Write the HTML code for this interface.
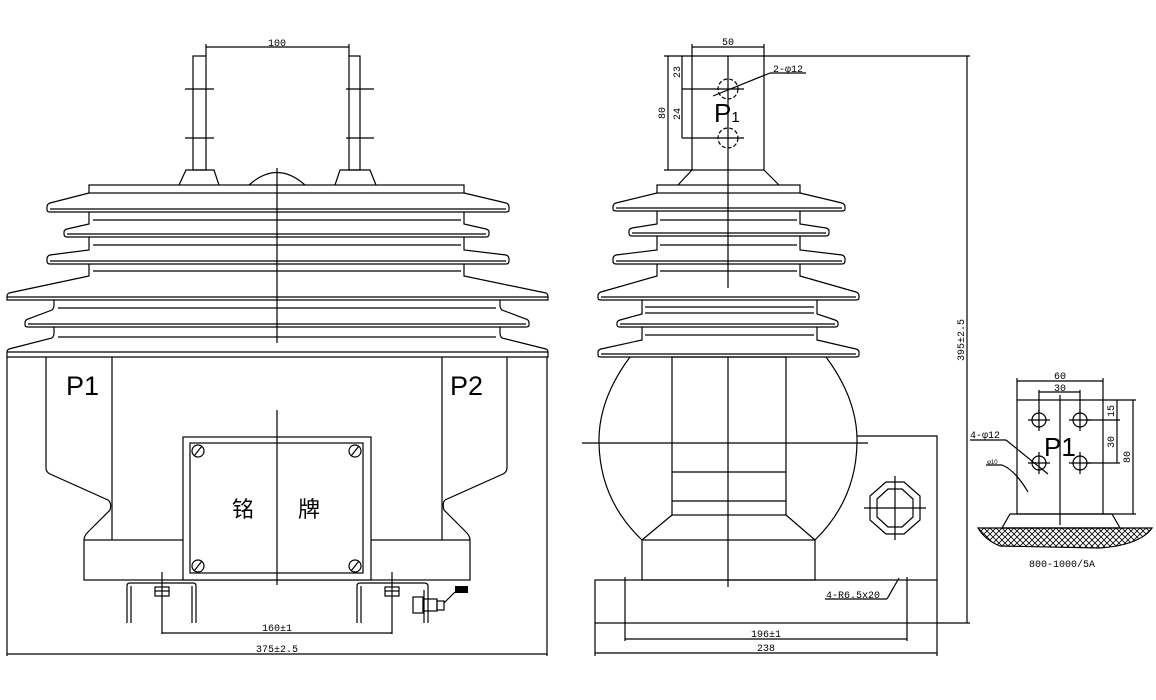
<!DOCTYPE html>
<html><head><meta charset="utf-8"><style>
html,body{margin:0;padding:0;background:#fff;}
svg{display:block;}
text{font-family:"Liberation Sans","Noto Sans CJK SC",sans-serif;fill:#000;}
.d{font-size:10px;font-family:"Liberation Mono",monospace;}
</style></head><body>
<svg width="1156" height="700" viewBox="0 0 1156 700" xmlns="http://www.w3.org/2000/svg">
<defs>
<pattern id="h" width="6" height="6" patternUnits="userSpaceOnUse">
<path d="M0,0 L6,6 M6,0 L0,6" stroke="#000" stroke-width="0.8"/>
</pattern>
</defs>
<g fill="none" stroke="#000" stroke-width="1.2">
<!-- LEFT VIEW -->
<!-- terminals -->
<rect x="193" y="56" width="13" height="114"/>
<rect x="349" y="56" width="11" height="114"/>
<line x1="185" y1="89" x2="214" y2="89"/><line x1="185" y1="138" x2="214" y2="138"/>
<line x1="346" y1="89" x2="374" y2="89"/><line x1="346" y1="138" x2="374" y2="138"/>
<line x1="206" y1="47" x2="349" y2="47"/>
<line x1="206" y1="44" x2="206" y2="56"/><line x1="349" y1="44" x2="349" y2="56"/>
<path d="M179,185 L186,170 L214,170 L219,185"/>
<path d="M335,185 L340,170 L370,170 L376,185"/>
<path d="M249,185 Q277,160 305,185"/>
<rect x="89" y="185" width="375" height="8"/>
<!-- sheds -->
<path d="M89,193 L50,203 Q47,204 47,207 L47,210 Q47,212 50,212 L506,212 Q509,212 509,210 L509,207 Q509,204 506,203 L464,193"/>
<line x1="50" y1="209" x2="506" y2="209"/>
<path d="M89,212 L89,224 L67,229 Q64,230 64,232 L64,234 Q64,237 67,237 L486,237 Q489,237 489,234 L489,232 Q489,230 486,229 L464,224 L464,212"/>
<line x1="67" y1="234" x2="486" y2="234"/>
<line x1="93" y1="220" x2="461" y2="220"/>
<path d="M89,237 L89,250 L50,255 Q47,256 47,259 L47,261 Q47,264 50,264 L506,264 Q509,264 509,261 L509,259 Q509,256 506,255 L464,250 L464,237"/>
<line x1="50" y1="261" x2="506" y2="261"/>
<line x1="93" y1="245" x2="461" y2="245"/>
<path d="M89,264 L89,276 L9,293 Q7,294 7,297 L7,300 L548,300 L548,297 Q548,294 546,293 L464,276 L464,264"/>
<line x1="7" y1="297" x2="548" y2="297"/>
<line x1="93" y1="271" x2="461" y2="271"/>
<path d="M54,300 L54,305 Q54,308 52,310 L28,319 Q25,320 25,323 L25,325 Q25,327 28,327 L526,327 Q529,327 529,325 L529,323 Q529,320 526,319 L502,310 Q500,308 500,305 L500,300"/>
<line x1="28" y1="324" x2="526" y2="324"/>
<line x1="58" y1="308" x2="496" y2="308"/>
<path d="M54,327 L54,333 Q54,336 52,338 L9,349 Q7,350 7,352 L7,357 L548,357 L548,352 Q548,350 546,349 L502,338 Q500,336 500,333 L500,327"/>
<line x1="7" y1="352" x2="548" y2="352"/>
<line x1="58" y1="337" x2="496" y2="337"/>
<line x1="277" y1="168" x2="277" y2="343"/>
<!-- body -->
<line x1="7" y1="357" x2="7" y2="656"/><line x1="547" y1="357" x2="547" y2="656"/>
<path d="M46,357 L46,468 Q46,472 50,474 L108,500 Q112,503 110,510 L88,532 Q84,536 84,540"/>
<line x1="112" y1="357" x2="112" y2="540"/>
<path d="M507,357 L507,468 Q507,472 503,474 L445,500 Q442,503 444,510 L466,532 Q470,536 470,540"/>
<line x1="442" y1="357" x2="442" y2="540"/>
<rect x="84" y="540" width="386" height="40"/>
<rect x="183" y="437" width="188" height="143" fill="#fff"/>
<rect x="190" y="443" width="173" height="130"/>
<circle cx="198" cy="451" r="6"/><circle cx="355" cy="451" r="6"/>
<circle cx="198" cy="566" r="6"/><circle cx="355" cy="566" r="6"/>
<line x1="194" y1="456" x2="202" y2="446"/><line x1="351" y1="456" x2="359" y2="446"/>
<line x1="194" y1="571" x2="202" y2="561"/><line x1="351" y1="571" x2="359" y2="561"/>
<line x1="277" y1="410" x2="277" y2="585"/>
<!-- brackets -->
<path d="M127,623 L127,586 Q127,583 130,583 L193,583 Q196,583 196,586 L196,623"/>
<line x1="131" y1="586" x2="131" y2="623"/><line x1="192" y1="586" x2="192" y2="623"/>
<path d="M357,623 L357,586 Q357,583 360,583 L424,583 Q428,583 428,586 L428,623"/>
<line x1="361" y1="586" x2="361" y2="623"/><line x1="424" y1="590" x2="424" y2="623"/>
<rect x="155" y="587" width="14" height="9"/><line x1="155" y1="591" x2="169" y2="591"/>
<rect x="385" y="587" width="14" height="9"/><line x1="385" y1="591" x2="399" y2="591"/>
<rect x="413" y="597" width="10" height="16"/><rect x="423" y="599" width="14" height="12"/><rect x="437" y="601" width="7" height="9"/>
<line x1="444" y1="603" x2="455" y2="592"/>
<!-- dims -->
<line x1="162" y1="572" x2="162" y2="634"/><line x1="392" y1="572" x2="392" y2="634"/>
<line x1="162" y1="633" x2="392" y2="633"/>
<line x1="7" y1="654" x2="547" y2="654"/>

<!-- RIGHT VIEW -->
<rect x="692" y="56" width="72" height="114"/>
<line x1="692" y1="47" x2="764" y2="47"/>
<line x1="692" y1="44" x2="692" y2="56"/><line x1="764" y1="44" x2="764" y2="56"/>
<line x1="764" y1="56" x2="970" y2="56"/>
<line x1="967" y1="56" x2="967" y2="623"/>
<line x1="937" y1="623" x2="970" y2="623"/>
<line x1="668" y1="56" x2="668" y2="170"/>
<line x1="664" y1="56" x2="692" y2="56"/><line x1="664" y1="170" x2="692" y2="170"/>
<line x1="682" y1="56" x2="682" y2="138"/>
<line x1="682" y1="89" x2="744" y2="89"/><line x1="682" y1="138" x2="744" y2="138"/>
<circle cx="728" cy="89" r="10" stroke-dasharray="4 2"/>
<circle cx="728" cy="138" r="10" stroke-dasharray="4 2"/>
<line x1="713" y1="96" x2="770" y2="73"/>
<line x1="770" y1="73" x2="806" y2="73"/>
<line x1="728" y1="56" x2="728" y2="288"/>
<path d="M678,185 L692,170 M764,170 L779,185"/>
<rect x="657" y="185" width="143" height="8"/>
<path d="M657,193 L616,203 Q613,204 613,207 L613,209 Q613,211 616,211 L842,211 Q845,211 845,209 L845,207 Q845,204 842,203 L800,193"/>
<line x1="616" y1="208" x2="842" y2="208"/>
<line x1="660" y1="220" x2="797" y2="220"/>
<path d="M657,211 L657,224 L632,228 Q629,229 629,231 L629,233 Q629,236 632,236 L826,236 Q829,236 829,233 L829,231 Q829,229 826,228 L800,224 L800,211"/>
<line x1="632" y1="233" x2="826" y2="233"/>
<line x1="660" y1="245" x2="797" y2="245"/>
<path d="M657,236 L657,250 L616,255 Q613,256 613,259 L613,261 Q613,264 616,264 L842,264 Q845,264 845,261 L845,259 Q845,256 842,255 L800,250 L800,236"/>
<line x1="616" y1="261" x2="842" y2="261"/>
<line x1="660" y1="271" x2="797" y2="271"/>
<path d="M657,264 L657,276 L601,292 Q598,293 598,296 L598,298 Q598,300 601,300 L856,300 Q859,300 859,298 L859,296 Q859,293 856,292 L800,276 L800,264"/>
<line x1="601" y1="297" x2="856" y2="297"/>
<line x1="645" y1="307" x2="814" y2="307"/><line x1="645" y1="313" x2="814" y2="313"/>
<path d="M642,300 L642,314 L620,320 Q617,321 617,323 L617,325 Q617,327 620,327 L835,327 Q838,327 838,325 L838,323 Q838,321 835,320 L817,314 L817,300"/>
<line x1="620" y1="324" x2="835" y2="324"/>
<line x1="645" y1="335" x2="814" y2="335"/>
<path d="M642,327 L642,340 L601,349 Q598,350 598,352 L598,355 Q598,357 601,357 L856,357 Q859,357 859,355 L859,352 Q859,350 856,349 L817,340 L817,327"/>
<line x1="601" y1="354" x2="856" y2="354"/>
<!-- ball -->
<path d="M630,357 Q598,400 599,443 Q600,500 642,540"/>
<path d="M826,357 Q858,400 857,443 Q856,500 815,540"/>
<rect x="672" y="357" width="114" height="158"/>
<line x1="672" y1="472" x2="786" y2="472"/><line x1="672" y1="501" x2="786" y2="501"/>
<path d="M672,515 L642,540 M786,515 L815,540"/>
<rect x="642" y="540" width="173" height="40"/>
<line x1="582" y1="443" x2="868" y2="443"/>
<line x1="728" y1="357" x2="728" y2="587"/>
<path d="M857,436 L937,436 L937,580"/>
<polygon points="886,482 904,482 920,496 920,520 904,534 886,534 870,520 870,496"/>
<polygon points="888,489 902,489 913,499 913,517 902,527 888,527 877,517 877,499"/>
<line x1="864" y1="508" x2="926" y2="508"/><line x1="895" y1="476" x2="895" y2="540"/>
<rect x="595" y="580" width="342" height="43"/>
<line x1="625" y1="577" x2="625" y2="641"/><line x1="907" y1="577" x2="907" y2="641"/>
<line x1="625" y1="639" x2="907" y2="639"/>
<line x1="595" y1="623" x2="595" y2="656"/><line x1="937" y1="623" x2="937" y2="656"/>
<line x1="595" y1="653" x2="937" y2="653"/>
<line x1="825" y1="599" x2="887" y2="599"/>
<line x1="887" y1="599" x2="899" y2="578"/>

<!-- DETAIL P1 -->
<rect x="1017" y="400" width="86" height="114"/>
<line x1="1017" y1="381" x2="1103" y2="381"/>
<line x1="1017" y1="378" x2="1017" y2="400"/><line x1="1103" y1="378" x2="1103" y2="400"/>
<line x1="1039" y1="392" x2="1080" y2="392"/>
<line x1="1039" y1="390" x2="1039" y2="412"/><line x1="1080" y1="390" x2="1080" y2="412"/>
<circle cx="1039" cy="420" r="7"/><circle cx="1080" cy="420" r="7"/>
<circle cx="1039" cy="463" r="7"/><circle cx="1080" cy="463" r="7"/>
<path d="M1028,420 H1050 M1039,409 V431 M1069,420 H1091 M1080,409 V431 M1028,463 H1050 M1039,452 V474 M1069,463 H1091 M1080,452 V474"/>
<line x1="1087" y1="420" x2="1120" y2="420"/><line x1="1087" y1="463" x2="1120" y2="463"/>
<line x1="1103" y1="400" x2="1136" y2="400"/><line x1="1103" y1="514" x2="1136" y2="514"/>
<line x1="1117" y1="400" x2="1117" y2="463"/>
<line x1="1133" y1="400" x2="1133" y2="514"/>
<line x1="1060" y1="395" x2="1060" y2="525"/>
<line x1="970" y1="440" x2="1006" y2="440"/><line x1="1006" y1="440" x2="1048" y2="474"/>
<path d="M986,465 L1002,465 Q1015,470 1028,492"/>
<polygon points="1010,514 1112,514 1120,528 1002,528"/>
<path d="M978,528 L1152,528 Q1140,545 1100,548 L1000,546 Q985,540 978,528 Z" fill="url(#h)"/>
</g>
<polygon points="455,586 468,586 468,593 455,593" fill="#000"/>
<!-- text -->
<text x="277" y="46" class="d" text-anchor="middle">100</text>
<text x="66" y="395" font-size="27">P1</text>
<text x="450" y="395" font-size="27">P2</text>
<text x="243" y="517" font-size="22" text-anchor="middle">铭</text>
<text x="309" y="517" font-size="22" text-anchor="middle">牌</text>
<text x="277" y="631" class="d" text-anchor="middle">160±1</text>
<text x="277" y="652" class="d" text-anchor="middle">375±2.5</text>
<text x="728" y="45" class="d" text-anchor="middle">50</text>
<text x="773" y="72" class="d">2-φ12</text>
<text x="714" y="122" font-size="26" fill="#000">P<tspan font-size="15">1</tspan></text>
<text class="d" transform="translate(665,113) rotate(-90)" text-anchor="middle">80</text>
<text class="d" transform="translate(680,72) rotate(-90)" text-anchor="middle">23</text>
<text class="d" transform="translate(680,114) rotate(-90)" text-anchor="middle">24</text>
<text class="d" transform="translate(964,340) rotate(-90)" text-anchor="middle">395±2.5</text>
<text x="766" y="637" class="d" text-anchor="middle">196±1</text>
<text x="766" y="651" class="d" text-anchor="middle">238</text>
<text x="826" y="598" class="d">4-R6.5x20</text>
<text x="1060" y="379" class="d" text-anchor="middle">60</text>
<text x="1060" y="391" class="d" text-anchor="middle">30</text>
<text class="d" transform="translate(1114,411) rotate(-90)" text-anchor="middle">15</text>
<text class="d" transform="translate(1114,442) rotate(-90)" text-anchor="middle">30</text>
<text class="d" transform="translate(1130,457) rotate(-90)" text-anchor="middle">80</text>
<text x="1044" y="456" font-size="26">P1</text>
<text x="970" y="438" class="d">4-φ12</text>
<text x="987" y="464" font-size="6">φ10</text>
<text x="1062" y="567" class="d" text-anchor="middle" fill="#444">800-1000/5A</text>
</svg>
</body></html>
